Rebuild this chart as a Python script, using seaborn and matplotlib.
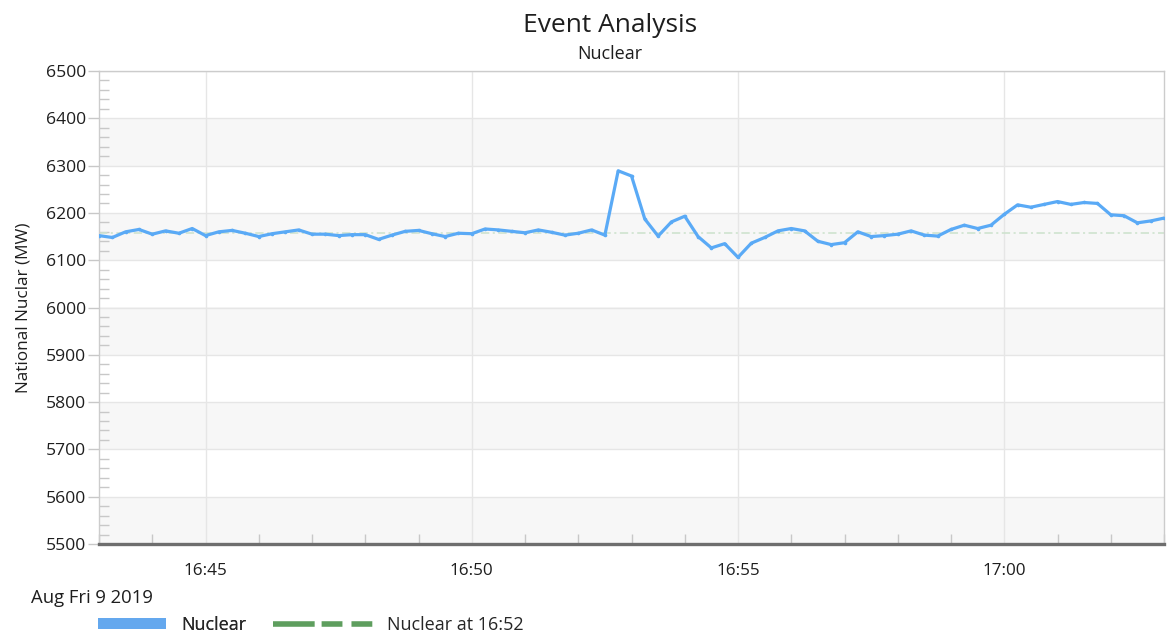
import matplotlib
matplotlib.use("Agg")
import matplotlib.pyplot as plt
import matplotlib.dates as mdates
from matplotlib.lines import Line2D
from matplotlib.patches import Patch
import numpy as np
import pandas as pd
import seaborn as sns

# ---------------- data ----------------
title = "Event Analysis"
subtitle = "Nuclear"
y_label = "National Nuclar (MW)"
date_label = "Aug Fri 9 2019"
series_name = "Nuclear"
ref_name = "Nuclear at 16:52"

start_time = "2019-08-09 16:43:00"
sample_seconds = 15
nuclear_mw = [
    6152, 6148, 6160, 6165,   # 16:43
    6155, 6162, 6157, 6167,   # 16:44
    6152, 6160, 6163, 6157,   # 16:45
    6150, 6156, 6160, 6164,   # 16:46
    6155, 6155, 6152, 6154,   # 16:47
    6154, 6144, 6153, 6161,   # 16:48
    6163, 6156, 6150, 6157,   # 16:49
    6156, 6166, 6164, 6161,   # 16:50
    6158, 6164, 6159, 6153,   # 16:51
    6157, 6164, 6153, 6289,   # 16:52
    6278, 6187, 6151, 6181,   # 16:53
    6193, 6150, 6126, 6135,   # 16:54
    6106, 6136, 6148, 6162,   # 16:55
    6167, 6162, 6140, 6133,   # 16:56
    6137, 6160, 6150, 6152,   # 16:57
    6155, 6162, 6153, 6151,   # 16:58
    6165, 6174, 6167, 6174,   # 16:59
    6197, 6217, 6212, 6218,   # 17:00
    6224, 6218, 6222, 6220,   # 17:01
    6196, 6194, 6179, 6183,   # 17:02
    6189,                     # 17:03
]
ref_value = 6157  # Nuclear at 16:52

x_start = "2019-08-09 16:43:00"
x_end = "2019-08-09 17:03:00"
y_ticks = [5500, 5600, 5700, 5800, 5900, 6000, 6100, 6200, 6300, 6400, 6500]

# ---------------- styling ----------------
sns.set_theme(style="white")
plt.rcParams["font.family"] = ["Open Sans", "DejaVu Sans"]
plt.rcParams["lines.scale_dashes"] = False

BLUE = "#5aaaf6"
GREEN = "#5e9e5e"
TEXT = "#1e1e1e"

times = pd.date_range(start_time, periods=len(nuclear_mw), freq=f"{sample_seconds}s")
df = pd.DataFrame({"time": times, "mw": nuclear_mw})

W, H = 1167, 636
fig = plt.figure(figsize=(W / 100, H / 100), dpi=100)
ax = fig.add_axes([99 / W, 1 - 544 / H, (1164 - 99) / W, (544 - 71) / H])

# alternating bands
for i in range(0, len(y_ticks) - 1, 2):
    ax.axhspan(y_ticks[i], y_ticks[i + 1], color="#f7f7f7", zorder=0, lw=0)

ax.axhline(ref_value, color="#cfe3cf", lw=1.2, ls=(0, (6, 2.5, 1.5, 2.5)), zorder=2)

sns.lineplot(data=df, x="time", y="mw", ax=ax, color=BLUE, lw=2.3,
             marker="o", markersize=2.6, markeredgewidth=0, zorder=3)

ax.set_xlim(pd.Timestamp(x_start), pd.Timestamp(x_end))
ax.set_ylim(y_ticks[0], y_ticks[-1])
ax.set_yticks(y_ticks)
ax.set_yticks(np.arange(y_ticks[0], y_ticks[-1], 20), minor=True)

ax.xaxis.set_major_locator(mdates.MinuteLocator(byminute=range(0, 60, 5)))
ax.xaxis.set_minor_locator(mdates.MinuteLocator())
ax.xaxis.set_major_formatter(mdates.DateFormatter("%H:%M"))

ax.grid(True, which="major", axis="both", color="#e6e6e6", lw=1, zorder=1)
ax.set_axisbelow(True)

ax.tick_params(axis="x", which="major", direction="inout", length=12, width=1,
               color="#c8c8c8", labelsize=12.3, labelcolor=TEXT, pad=8)
ax.tick_params(axis="x", which="minor", direction="in", length=7, width=1,
               color="#c8c8c8", bottom=True)
ax.tick_params(axis="y", which="major", direction="out", length=8, width=1,
               color="#c8c8c8", labelsize=12.6, labelcolor=TEXT, pad=1.5, left=True)
ax.tick_params(axis="y", which="minor", direction="in", length=7, width=1,
               color="#c8c8c8", left=True)

for side in ["top", "right", "left"]:
    ax.spines[side].set_color("#cccccc")
    ax.spines[side].set_linewidth(1)
ax.spines["bottom"].set_color("#6e6e6e")
ax.spines["bottom"].set_linewidth(2.4)

ax.set_xlabel("")
ax.set_ylabel(y_label, fontsize=12.3, color=TEXT, labelpad=10)

fig.text(610 / W, 1 - 32 / H, title, ha="center", va="baseline", fontsize=19, color=TEXT)
fig.text(610 / W, 1 - 59 / H, subtitle, ha="center", va="baseline", fontsize=13, color=TEXT)
fig.text(31 / W, 1 - 598 / H, date_label, ha="left", va="center", fontsize=13.3, color=TEXT)

LEG_FS = 13
leg1 = fig.legend(handles=[Patch(facecolor="#64a8ee", edgecolor="none", label=series_name)],
                  loc="center left", bbox_to_anchor=(98 / W, 1 - 625 / H),
                  frameon=False, fontsize=LEG_FS, handlelength=3.77, handleheight=0.58,
                  handletextpad=0.83, borderpad=0, borderaxespad=0)
fig.add_artist(leg1)
fig.legend(handles=[Line2D([], [], color=GREEN, lw=4,
                           ls=(0, (30, 5, 15, 6.5, 15, 40)), label=ref_name)],
           loc="center left", bbox_to_anchor=(273 / W, 1 - 625 / H),
           frameon=False, fontsize=LEG_FS, handlelength=5.54,
           handletextpad=0.78, borderpad=0, borderaxespad=0)

fig.savefig("out.png", dpi=100)
